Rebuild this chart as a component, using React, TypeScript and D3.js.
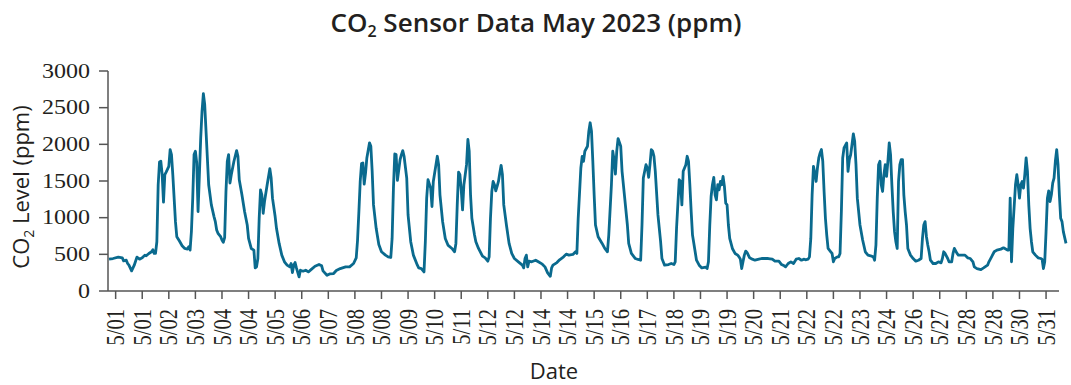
import React from 'react';
import * as d3 from 'd3';

// [reading index, ppm], split by stretch of the month
const segA: [number, number][] = [
  [0,434],[3,443],[7,462],[10,452],[11,411],[13,420],[14,375],[15,352],[17,274],[19,352],[21,462],[23,434],[25,452],[27,489],[28,480],[30,512],[32,535],[33,562],[34,512],[35,512],[36,672],[37,1449],[38,1759],[39,1769],[40,1586],[41,1211],[42,1586],[43,1622],[45,1700],[46,1929],[47,1860],[48,1586],[49,1266],[50,946],[51,740],[53,681],[55,617],[57,580],[59,571],[60,603],[61,558],[62,809],[63,1266],[64,1860],[65,1906],[66,1746],[67,1083],[68,1586],[69,2088],[70,2454],[71,2692],[72,2543],[73,2180],[74,1814],[75,1449],[77,1174],[79,1015],[80,946],[81,832],[82,786],[84,740],[85,695],[86,663],[87,727],[88,1357],[89,1769],[90,1860],[91,1472],[92,1586],[94,1769],[96,1915],[97,1837],[98,1517],[100,1312],[102,1083],[104,900],[105,717],[107,580],[109,558],[110,315],[111,329],[112,443],[113,992],[114,1380],[115,1312],[116,1060],[117,1220],[119,1449],[121,1668],[122,1540],[123,1266],[125,1015],[126,855],[128,649],[130,489],[132,398],[134,352],[136,329],[137,375],[138,251],[139,352],[140,388],[141,315],
];
const segB: [number, number][] = [
  [143,192],[144,283],[146,270],[148,283],[150,260],[152,292],[155,338],[158,361],[160,343],[161,274],[164,215],[166,233],[169,238],[171,279],[174,306],[178,329],[181,329],[184,375],[186,452],[187,695],[188,1083],[189,1494],[190,1737],[191,1746],[192,1458],[193,1609],[194,1814],[196,2020],[197,1974],[198,1632],[199,1174],[201,855],[203,635],[205,535],[208,489],[210,466],[212,457],[213,717],[214,1403],[215,1869],[216,1860],[217,1508],[219,1791],[220,1860],[221,1915],[222,1837],[224,1540],[225,1037],[227,672],[229,489],[232,352],[233,315],[235,306],[237,260],[238,672],[239,1266],[240,1517],[242,1403],[243,1152],[244,1494],[245,1609],[246,1723],[247,1837],[248,1723],[249,1312],[251,946],[253,717],[255,626],[258,580],[260,535],[261,649],[262,1174],[263,1622],[264,1586],[265,1380],[266,1106],[267,1449],[268,1586],[269,1723],[270,2066],[271,1906],[272,1312],[273,992],[275,763],[276,672],[278,580],[281,475],[283,452],[285,407],[286,466],
];
const segC: [number, number][] = [
  [287,992],[288,1357],[289,1494],[290,1449],[291,1366],[292,1426],[293,1494],[294,1609],[295,1714],[296,1586],[297,1174],[299,900],[301,649],[303,512],[305,443],[308,398],[311,352],[312,315],[313,443],[314,489],[315,329],[316,407],[318,398],[321,420],[323,398],[326,366],[328,329],[330,247],[332,201],[333,315],[334,352],[337,388],[339,425],[342,466],[344,503],[346,489],[349,498],[351,535],[352,512],[353,992],[355,1677],[356,1837],[357,1769],[358,1906],[360,1974],[361,2180],[362,2294],[363,2180],[364,1769],[365,1312],[366,900],[368,740],[371,649],[373,580],[375,535],[376,763],[378,1449],[379,1906],[380,1791],[381,1595],[382,1906],[383,2079],[385,1974],[386,1632],[388,1266],[390,900],[391,649],[393,512],[396,443],[398,430],[400,420],[401,900],[402,1540],[404,1723],[405,1677],[406,1549],[407,1723],[408,1929],[409,1906],[410,1837],[411,1632],[413,1037],[415,672],[416,443],[418,352],[421,361],[423,375],[425,361],[426,398],
];
const segD: [number, number][] = [
  [427,855],[429,1517],[430,1494],[431,1174],[432,1632],[433,1677],[434,1723],[435,1837],[436,1769],[437,1449],[438,1083],[439,763],[441,535],[442,420],[444,352],[446,315],[449,324],[450,306],[451,398],[452,900],[453,1289],[454,1449],[455,1549],[456,1312],[457,1243],[458,1449],[459,1380],[460,1494],[461,1449],[462,1563],[463,1426],[464,1197],[465,1174],[466,900],[467,717],[469,580],[471,512],[473,489],[474,466],[475,434],[476,306],[477,398],[478,489],[479,544],[480,526],[482,452],[484,434],[486,420],[489,434],[491,443],[494,443],[496,443],[499,434],[501,407],[504,407],[506,361],[508,343],[509,329],[511,375],[513,398],[515,375],[517,434],[519,443],[521,420],[523,434],[524,425],[526,434],[527,466],[528,717],[529,1312],[530,1700],[531,1609],[532,1494],[533,1677],[534,1814],[535,1883],[536,1929],[537,1769],[538,1357],[539,992],[540,763],[541,580],[543,535],[544,512],[545,398],[546,443],[548,466],[549,466],[550,512],[551,1083],[552,1814],[553,1951],[555,2020],[556,1632],[557,1791],[558,1860],[559,1997],[560,2143],[561,2043],[562,1723],[563,1266],[565,900],[567,695],[569,535],[571,489],
];
const segE: [number, number][] = [
  [573,480],[575,466],[576,420],[577,626],[578,1266],[579,1723],[580,1769],[581,1449],[582,1357],[583,1586],[584,1723],[585,1563],[586,1769],[587,2020],[588,1860],[589,1449],[590,1083],[591,809],[592,672],[593,580],[594,1494],[595,1723],[596,1791],[597,1791],[598,1312],[599,1083],[600,900],[601,580],[603,489],[605,443],[607,407],[609,420],[611,443],[612,717],[613,900],[614,946],[615,740],[616,626],[617,535],[618,420],[620,375],[622,375],[624,398],[626,384],[627,443],[628,535],[629,512],[631,443],[632,398],[634,398],[635,512],[636,580],[638,512],[639,489],[642,489],[644,489],[646,452],[648,443],[650,398],[651,329],[653,306],[656,292],[658,315],[661,352],[662,398],[664,466],[666,535],[668,558],[671,571],[673,589],[674,580],[676,558],[677,558],[678,1266],[679,398],[680,855],[681,1152],[682,1449],[683,1586],[684,1449],[685,1266],[686,1449],[687,1494],[688,1403],[689,1586],[690,1814],[691,1632],[692,1174],[693,855],[694,672],[695,535],[697,489],[699,452],[701,443],[702,434],[703,306],[704,398],[705,809],[706,1266],[707,1366],[708,1220],[709,1312],[710,1472],[711,1540],[712,1769],[713,1929],[714,1723],[715,1312],[716,992],[717,946],[718,809],[720,649],
];

const dateLabels = [
  '5/01','5/01','5/02','5/03','5/04','5/04','5/05','5/06','5/07','5/08','5/08','5/09',
  '5/10','5/11','5/12','5/12','5/14','5/14','5/15','5/16','5/17','5/18','5/19','5/19',
  '5/20','5/21','5/22','5/22','5/23','5/24','5/26','5/27','5/28','5/28','5/30','5/31',
];
const yTicks = [0, 500, 1000, 1500, 2000, 2500, 3000];

const SERIF = '"Liberation Serif", "Times New Roman", serif';
const SANS = '"Open Sans", "Noto Sans", sans-serif';
const AXIS = '#555';
const INK = '#231f20';

export default function App() {
  const W = 1071, H = 385;
  const data = [...segA, ...segB, ...segC, ...segD, ...segE];

  const x = d3.scaleLinear().domain([0, 720]).range([109, 1066]);
  const y = d3.scaleLinear().domain([0, 3000]).range([291, 71]);
  const path = d3.line<[number, number]>().x(d => x(d[0])).y(d => y(d[1]))(data) || '';

  // one date tick every 20 readings
  const tickAt = (i: number) => 5 + i * 20;
  const x0 = 108, x1 = 1059, y0 = y(0);

  return (
    <svg width={W} height={H} style={{ position: 'absolute', left: 0, top: 0, background: '#fff' }}>
      <text x={536} y={32} textAnchor="middle" fontFamily={SANS} fontWeight={600} fontSize={26} fill={INK}>
        CO<tspan fontSize={16} dy={5}>2</tspan><tspan dy={-5}> Sensor Data May 2023 (ppm)</tspan>
      </text>

      {/* y axis */}
      <line x1={x0} x2={x0} y1={y(3000)} y2={y0} stroke={AXIS} strokeWidth={1.5} />
      {yTicks.map(t => (
        <g key={t} transform={`translate(${x0},${y(t)})`}>
          <line x1={-9} x2={0} stroke={AXIS} strokeWidth={1.5} />
          <text x={-15} dy="0.33em" textAnchor="end" fontFamily={SERIF} fontSize={20} fill={INK}
            transform="scale(1.2,1)">{t}</text>
        </g>
      ))}

      {/* x axis */}
      <line x1={x0} x2={x1} y1={y0} y2={y0} stroke={AXIS} strokeWidth={1.5} />
      {dateLabels.map((lab, i) => (
        <g key={i} transform={`translate(${x(tickAt(i))},${y0})`}>
          <line y1={0} y2={8} stroke={AXIS} strokeWidth={1.5} />
          <text transform="translate(0,18) rotate(-90) scale(1,1.2)" dy="0.35em" textAnchor="end"
            fontFamily={SERIF} fontSize={20.5} fill={INK}>{lab}</text>
        </g>
      ))}

      <path d={path} fill="none" stroke="#0a6a8e" strokeWidth={2.8} strokeLinejoin="round" />

      <text x={554} y={379} textAnchor="middle" fontFamily={SANS} fontSize={22} fill={INK}>Date</text>
      <text transform="translate(29,187) rotate(-90)" textAnchor="middle" fontFamily={SANS} fontSize={22} fill={INK}>
        CO<tspan fontSize={14} dy={5}>2</tspan><tspan dy={-5}> Level (ppm)</tspan>
      </text>
    </svg>
  );
}
